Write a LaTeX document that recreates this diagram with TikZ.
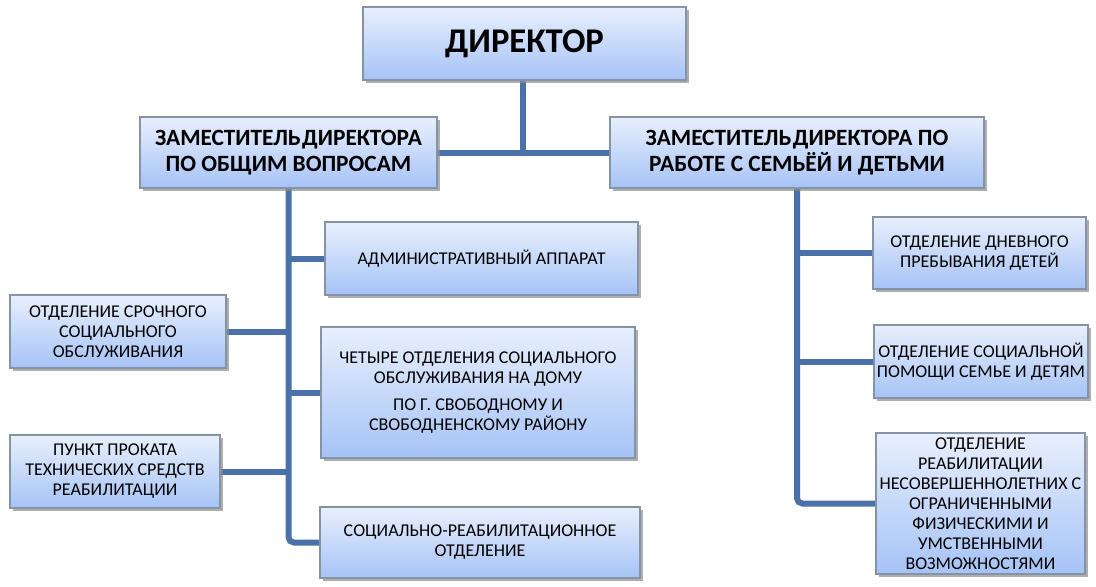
\documentclass[tikz,border=0pt]{standalone}
\usepackage{fontspec}
\setmainfont{Carlito}
\usetikzlibrary{shadows,backgrounds}
\definecolor{linec}{HTML}{4A72A8}
\definecolor{boxtop}{HTML}{E8EFFC}
\definecolor{boxbot}{HTML}{A6C3F6}
\definecolor{boxdraw}{HTML}{8593A6}
\tikzset{
  box/.style 2 args={draw=boxdraw, line width=0.8pt, top color=boxtop, bottom color=boxbot,
    minimum width=#1*0.75pt, minimum height=#2*0.75pt, inner sep=0pt, align=center,
    drop shadow={shadow xshift=2pt, shadow yshift=-2pt, fill=black!45, opacity=0.7}},
  small/.style={font=\fontsize{13.5}{15}\selectfont},
  dep/.style={font=\fontsize{17.5}{19.5}\selectfont\bfseries},
  conn/.style={draw=linec, line width=4.5pt},
}
\begin{document}
\begin{tikzpicture}[x=0.75pt,y=-0.75pt]
\useasboundingbox (0,0) rectangle (1096,586);
\node[box={323}{73}, font=\fontsize{26}{30}\selectfont\bfseries] (dir) at (524.5,43.5) {ДИРЕКТОР};
\node[box={297}{71}, dep] (dep1) at (288.5,152.5) {ЗАМЕСТИТЕЛЬ\hspace{1pt}ДИРЕКТОРА\\ПО ОБЩИМ ВОПРОСАМ};
\node[box={374}{71}, dep] (dep2) at (797,152.5) {ЗАМЕСТИТЕЛЬ\hspace{1pt}ДИРЕКТОРА ПО\\РАБОТЕ С СЕМЬЁЙ И ДЕТЬМИ};
\node[box={313}{73}, small] (adm) at (481.5,258.5) {АДМИНИСТРАТИВНЫЙ АППАРАТ};
\node[box={314}{131}, small] (four) at (478,392.5) {ЧЕТЫРЕ ОТДЕЛЕНИЯ СОЦИАЛЬНОГО\\ОБСЛУЖИВАНИЯ НА ДОМУ\\[5pt]ПО Г. СВОБОДНОМУ И\\СВОБОДНЕНСКОМУ РАЙОНУ};
\node[box={320}{71}, small] (socr) at (480,542.5) {СОЦИАЛЬНО-РЕАБИЛИТАЦИОННОЕ\\ОТДЕЛЕНИЕ};
\node[box={216}{73}, small] (srch) at (118,331.5) {ОТДЕЛЕНИЕ СРОЧНОГО\\СОЦИАЛЬНОГО\\ОБСЛУЖИВАНИЯ};
\node[box={210}{73}, small] (punkt) at (115,471.5) {ПУНКТ ПРОКАТА\\ТЕХНИЧЕСКИХ СРЕДСТВ\\РЕАБИЛИТАЦИИ};
\node[box={213}{72}, small] (dnev) at (979.5,253) {ОТДЕЛЕНИЕ ДНЕВНОГО\\ПРЕБЫВАНИЯ ДЕТЕЙ};
\node[box={214}{73}, small] (pom) at (981,361.5) {ОТДЕЛЕНИЕ СОЦИАЛЬНОЙ\\ПОМОЩИ СЕМЬЕ И ДЕТЯМ};
\node[box={209}{141}, small] (reab) at (980.5,503.5) {ОТДЕЛЕНИЕ\\РЕАБИЛИТАЦИИ\\НЕСОВЕРШЕННОЛЕТНИХ С\\ОГРАНИЧЕННЫМИ\\ФИЗИЧЕСКИМИ И\\УМСТВЕННЫМИ\\ВОЗМОЖНОСТЯМИ};
\begin{pgfonlayer}{background}
\draw[conn] ([xshift=-1pt]dir.south) -- ([xshift=-1pt]dir.south |- dep1.east);
\draw[conn] (dep1.east) -- (dep2.west);
\draw[conn, rounded corners=4pt] (dep1.south) -- (dep1.south |- socr.west) -- (socr.west);
\draw[conn] (dep1.south |- adm.west) -- (adm.west);
\draw[conn] (dep1.south |- four.west) -- (four.west);
\draw[conn] (srch.east) -- (dep1.south |- srch.east);
\draw[conn] (punkt.east) -- (dep1.south |- punkt.east);
\draw[conn, rounded corners=4pt] (dep2.south) -- (dep2.south |- reab.west) -- (reab.west);
\draw[conn] (dep2.south |- dnev.west) -- (dnev.west);
\draw[conn] (dep2.south |- pom.west) -- (pom.west);
\end{pgfonlayer}
\end{tikzpicture}
\end{document}
